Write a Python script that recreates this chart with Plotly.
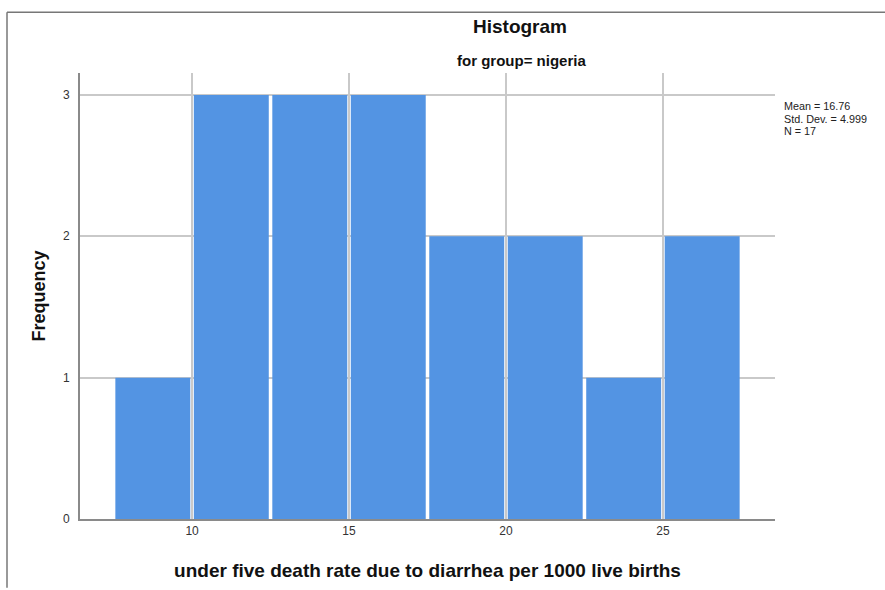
import plotly.graph_objects as go

bin_starts = [7.5, 10.0, 12.5, 15.0, 17.5, 20.0, 22.5, 25.0]
bin_width = 2.5
frequencies = [1, 3, 3, 3, 2, 2, 1, 2]
x_ticks = [10, 15, 20, 25]
y_ticks = [0, 1, 2, 3]
stats_lines = ["Mean = 16.76", "Std. Dev. = 4.999", "N = 17"]

centers = [s + bin_width / 2 for s in bin_starts]

W, H = 885, 590
L, R, T, B = 80, 110, 73, 69
pw, ph = W - L - R, H - T - B

def px(x):
    return (x - L) / pw

def py(y):
    return (H - B - y) / ph

fig = go.Figure()
fig.add_trace(go.Bar(
    x=centers, y=frequencies, width=[bin_width * 0.955] * len(centers),
    marker=dict(color="#5394E3", line=dict(width=0)),
    hoverinfo="skip",
))

annotations = [
    dict(text="<b>Histogram</b>", x=px(520), y=py(26), xref="paper", yref="paper",
         showarrow=False, font=dict(size=19, color="#111"), xanchor="center", yanchor="middle"),
    dict(text="<b>for group= nigeria</b>", x=px(521), y=py(60), xref="paper", yref="paper",
         showarrow=False, font=dict(size=15, color="#111"), xanchor="center", yanchor="middle"),
]
for i, line in enumerate(stats_lines):
    annotations.append(dict(text=line, x=px(783), y=py(106 + 12.3 * i), xref="paper", yref="paper",
                            showarrow=False, align="left", valign="middle", height=11, borderpad=0,
                            font=dict(size=10.8, color="#222"),
                            xanchor="left", yanchor="middle"))

fig.update_layout(
    width=W, height=H,
    margin=dict(l=L, r=R, t=T, b=B),
    paper_bgcolor="white", plot_bgcolor="white",
    showlegend=False,
    font=dict(family="Liberation Sans, Arial, sans-serif", color="#222"),
    xaxis=dict(
        range=[6.43, 28.57], tickvals=x_ticks, showgrid=True,
        gridcolor="#c9c9c9", gridwidth=1.5, zeroline=False,
        showline=True, linecolor="#8a8a8a", linewidth=2,
        ticks="", tickfont=dict(size=12, color="#333"),
        title=dict(text="<b>under five death rate due to diarrhea per 1000 live births</b>",
                   font=dict(size=19, color="#111"), standoff=26),
    ),
    yaxis=dict(
        range=[0, 3.155], tickvals=y_ticks, showgrid=True,
        gridcolor="#c9c9c9", gridwidth=1.5, zeroline=False,
        showline=True, linecolor="#8a8a8a", linewidth=2,
        ticks="", tickfont=dict(size=12, color="#333"), ticklabelstandoff=6,
        title=dict(text="<b>Frequency</b>", font=dict(size=18, color="#111"), standoff=13),
    ),
    annotations=annotations,
    shapes=[
        dict(type="line", xref="paper", yref="paper", x0=px(7), x1=px(885), y0=py(12), y1=py(12),
             line=dict(color="#777", width=1.5)),
        dict(type="line", xref="paper", yref="paper", x0=px(7), x1=px(7), y0=py(12), y1=py(590),
             line=dict(color="#777", width=1.5)),
    ],
)

fig.write_html("out.html", config={"displayModeBar": False},
               post_script="document.body.style.margin='0px';")
